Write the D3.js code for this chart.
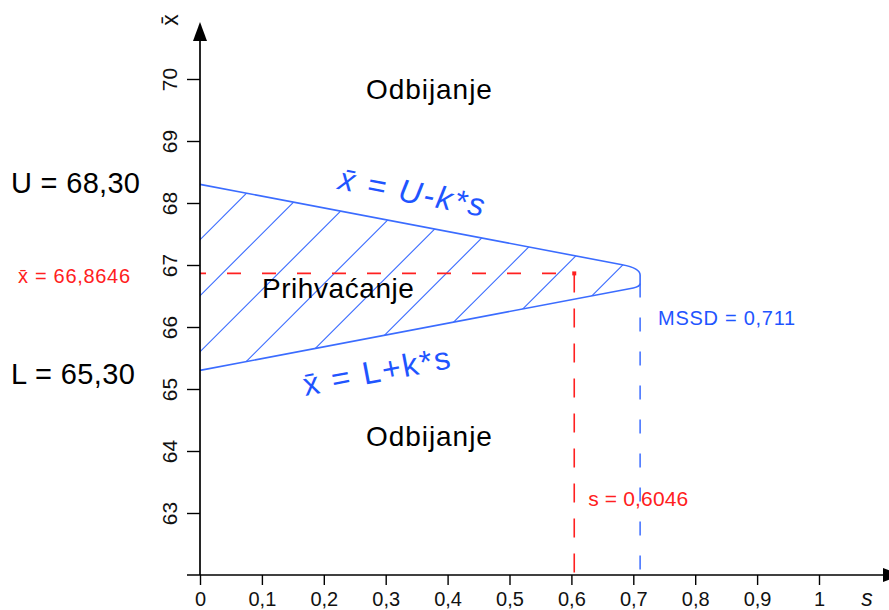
<!DOCTYPE html>
<html><head><meta charset="utf-8">
<script src="https://cdn.jsdelivr.net/npm/d3@7"></script>
<style>
body{margin:0;background:#fff}
svg{display:block}
text{font-family:"Liberation Sans", Arial, sans-serif}
</style>
</head><body>
<svg id="chart" width="889" height="610"></svg>
<script>
// ---- data ----
const xTicks = [0, 0.1, 0.2, 0.3, 0.4, 0.5, 0.6, 0.7, 0.8, 0.9, 1];
const xTickLabels = ["0", "0,1", "0,2", "0,3", "0,4", "0,5", "0,6", "0,7", "0,8", "0,9", "1"];
const yTicks = [63, 64, 65, 66, 67, 68, 69, 70];
const yTickLabels = ["63", "64", "65", "66", "67", "68", "69", "70"];
const U = 68.30, L = 65.30, k = 1.9;
const MSSD = 0.711;
const sObs = 0.6046, xbarObs = 66.8646;
const capS = [0.682, 0.700];        // where the straight limits turn into the rounded tip
const capX = [66.84, 66.70];        // vertical part of the tip at s = MSSD
const regionLabels = ["Odbijanje", "Prihvaćanje", "Odbijanje"];
const regionPos = [[0.268, 69.67], [0.100, 66.47], [0.268, 64.08]];   // [s, x̄] of label start
const fmt = d3.formatLocale({decimal: ",", thousands: ".", grouping: [3], currency: ["", ""]});
const f2 = fmt.format(".2f"), f3 = fmt.format(".3f"), f4 = fmt.format(".4f");

// ---- scales ----
const svg = d3.select("#chart");
const x = d3.scaleLinear().domain([0, 1]).range([200, 819]);
const y = d3.scaleLinear().domain([62, 70]).range([575, 79]);

const BLUE_LINE = "#3b6cff", BLUE_TXT = "#1f55ff", RED = "#ff2020";

// ---- hatched acceptance region ----
const p = d3.path();
p.moveTo(x(0), y(U));
p.lineTo(x(capS[0]), y(U - k * capS[0]));
p.quadraticCurveTo(x(MSSD), y(U - k * MSSD), x(MSSD), y(capX[0]));
p.lineTo(x(MSSD), y(capX[1]));
p.quadraticCurveTo(x(MSSD), y(L + k * MSSD), x(capS[1]), y(L + k * capS[1]));
p.lineTo(x(0), y(L));
const boundary = p.toString();

svg.append("clipPath").attr("id", "reg").append("path").attr("d", boundary + "Z");
const hatch = svg.append("g").attr("clip-path", "url(#reg)");
const c0 = x(0) + y(U) - 0.7;
d3.range(0, 11).forEach(i => {
  const c = c0 + i * 56;
  hatch.append("line")
    .attr("x1", c - 500).attr("y1", 500)
    .attr("x2", c + 100).attr("y2", -100)
    .attr("stroke", BLUE_LINE).attr("stroke-width", 1.1);
});
svg.append("path").attr("d", boundary).attr("fill", "none")
  .attr("stroke", BLUE_LINE).attr("stroke-width", 1.6);

// ---- dashed reference lines ----
svg.append("line")
  .attr("x1", x(0)).attr("x2", x(sObs)).attr("y1", y(xbarObs)).attr("y2", y(xbarObs))
  .attr("stroke", RED).attr("stroke-width", 1.6)
  .attr("stroke-dasharray", "14,21").attr("stroke-dashoffset", 8);
svg.append("line")
  .attr("x1", x(sObs)).attr("x2", x(sObs)).attr("y1", y(xbarObs)).attr("y2", y(62))
  .attr("stroke", RED).attr("stroke-width", 1.6)
  .attr("stroke-dasharray", "19,16");
svg.append("rect")
  .attr("x", x(sObs) - 2).attr("y", y(xbarObs) - 2).attr("width", 4).attr("height", 4)
  .attr("fill", RED);
svg.append("line")
  .attr("x1", x(MSSD)).attr("x2", x(MSSD)).attr("y1", y(capX[1])).attr("y2", y(62))
  .attr("stroke", BLUE_LINE).attr("stroke-width", 1.5)
  .attr("stroke-dasharray", "14,20");

// ---- axes ----
const xAxis = d3.axisBottom(x).tickValues(xTicks).tickFormat((d, i) => xTickLabels[i])
  .tickSize(10).tickSizeOuter(0).tickPadding(7);
const gx = svg.append("g").attr("transform", `translate(0,${y(62)})`).call(xAxis);
gx.select(".domain").remove();
gx.selectAll(".tick line").attr("stroke", "#000").attr("stroke-width", 1.4);
gx.selectAll(".tick text").attr("font-size", 20).attr("fill", "#111")
  .attr("font-family", "'Liberation Sans', Arial, sans-serif");

const yAxis = d3.axisLeft(y).tickValues(yTicks).tickFormat((d, i) => yTickLabels[i])
  .tickSize(13).tickSizeOuter(0);
const gy = svg.append("g").attr("transform", `translate(${x(0)},0)`).call(yAxis);
gy.select(".domain").remove();
gy.selectAll(".tick line").attr("stroke", "#000").attr("stroke-width", 1.4);
gy.selectAll(".tick text").attr("font-size", 21).attr("fill", "#111")
  .attr("font-family", "'Liberation Sans', Arial, sans-serif")
  .attr("x", 0).attr("dy", 0).attr("text-anchor", "middle")
  .attr("transform", "translate(-23,0) rotate(-90)");

// axis lines with arrows
svg.append("line").attr("x1", x(0) - 13).attr("x2", 884).attr("y1", y(62)).attr("y2", y(62))
  .attr("stroke", "#000").attr("stroke-width", 1.7);
svg.append("line").attr("x1", x(0)).attr("x2", x(0)).attr("y1", y(62)).attr("y2", 40)
  .attr("stroke", "#000").attr("stroke-width", 1.7);
svg.append("path").attr("d", `M${x(0) - 7},41 L${x(0) + 7},41 L${x(0)},22 Z`).attr("fill", "#000");
svg.append("path").attr("d", `M883,${y(62) - 7} L883,${y(62) + 7} L902,${y(62)} Z`).attr("fill", "#000");

svg.append("text").attr("transform", "translate(178,20) rotate(-90)")
  .attr("text-anchor", "middle").attr("font-size", 23).attr("fill", "#111").text("x\u0304");
svg.append("text").attr("x", 867).attr("y", 606).attr("text-anchor", "middle")
  .attr("font-size", 23).attr("font-style", "italic").attr("fill", "#111").text("s");

// ---- limit labels on the left ----
svg.append("text").attr("x", 11).attr("y", y(U) + 9).attr("font-size", 29).attr("fill", "#000")
  .attr("textLength", 129).attr("lengthAdjust", "spacing").text("U = " + f2(U));
svg.append("text").attr("x", 11).attr("y", y(L) + 14).attr("font-size", 29).attr("fill", "#000")
  .attr("textLength", 124).attr("lengthAdjust", "spacing").text("L = " + f2(L));
svg.append("text").attr("x", 18).attr("y", y(xbarObs) + 10).attr("font-size", 20).attr("fill", RED)
  .attr("textLength", 112).attr("lengthAdjust", "spacing").text("x\u0304 = " + f4(xbarObs));

// ---- region labels ----
regionLabels.forEach((t, i) => {
  svg.append("text").attr("x", x(regionPos[i][0])).attr("y", y(regionPos[i][1]))
    .attr("font-size", 28).attr("fill", "#000")
    .attr("textLength", i === 1 ? 152 : 126).attr("lengthAdjust", "spacing").text(t);
});

// ---- annotations ----
svg.append("text").attr("x", x(MSSD) + 18).attr("y", y(66.03)).attr("font-size", 20).attr("fill", BLUE_TXT)
  .attr("textLength", 137).attr("lengthAdjust", "spacing").text("MSSD = " + f3(MSSD));
svg.append("text").attr("x", x(sObs) + 14).attr("y", y(63.11)).attr("font-size", 21).attr("fill", RED)
  .attr("textLength", 100).attr("lengthAdjust", "spacing").text("s = " + f4(sObs));

const ang = Math.atan(k * (y(0) - y(1)) / (x(1) - x(0))) * 180 / Math.PI;
svg.append("text").attr("transform", `translate(${x(0.342)},${y(68.18)}) rotate(${ang})`)
  .attr("text-anchor", "middle").attr("dy", "0.35em").attr("font-size", 32).attr("font-style", "italic")
  .attr("fill", BLUE_TXT).attr("textLength", 148).attr("lengthAdjust", "spacing")
  .text("x\u0304 = U-k*s");
svg.append("text").attr("transform", `translate(${x(0.285)},${y(65.29)}) rotate(${-ang})`)
  .attr("text-anchor", "middle").attr("dy", "0.35em").attr("font-size", 32)
  .attr("fill", BLUE_TXT).attr("textLength", 149).attr("lengthAdjust", "spacing")
  .text("x\u0304 = L+k*s");
</script>
</body></html>
